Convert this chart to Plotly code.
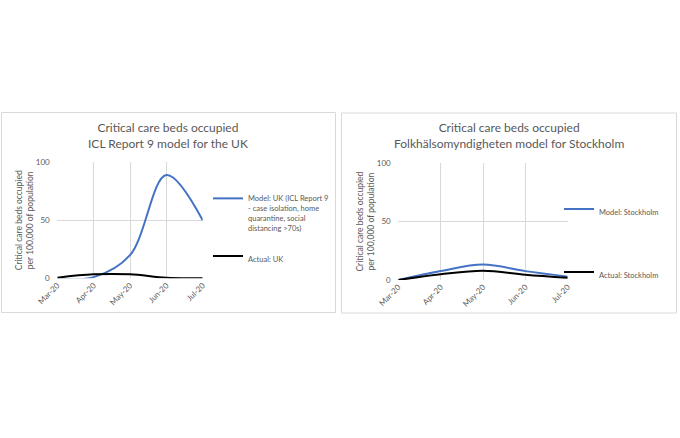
import plotly.graph_objects as go

W, H = 680, 438

months = ["Mar-20", "Apr-20", "May-20", "Jun-20", "Jul-20"]
uk_model = [0, 1, 20, 89, 50]
uk_actual = [0.5, 3.4, 3.4, 0.4, 0.1]
sthlm_model = [0, 7.7, 13.2, 7.6, 2.9]
sthlm_actual = [0, 4.9, 8.0, 4.6, 2.0]

title_uk = "Critical care beds occupied<br>ICL Report 9 model for the UK"
title_sthlm = "Critical care beds occupied<br>Folkhälsomyndigheten model for Stockholm"
ytitle = "Critical care beds occupied<br>per 100,000 of population"

FONT = "Lato"
GREY = "#595959"
GRID = "#d9d9d9"
BLUE = "#4472C4"


def px(x):
    return x / W


def py(y):
    return (H - y) / H


fig = go.Figure()

fig.add_trace(go.Scatter(x=months, y=uk_model, mode="lines", line=dict(color=BLUE, width=2, shape="spline"),
                         name="Model: UK (ICL Report 9<br>- case isolation, home<br>quarantine, social<br>distancing >70s)",
                         xaxis="x", yaxis="y", legend="legend"))
fig.add_trace(go.Scatter(x=months, y=uk_actual, mode="lines", line=dict(color="black", width=2, shape="spline"),
                         name="Actual: UK", xaxis="x", yaxis="y", legend="legend2"))
fig.add_trace(go.Scatter(x=months, y=sthlm_model, mode="lines", line=dict(color=BLUE, width=2, shape="spline"),
                         name="Model: Stockholm", xaxis="x2", yaxis="y2", legend="legend3"))
fig.add_trace(go.Scatter(x=months, y=sthlm_actual, mode="lines", line=dict(color="black", width=2, shape="spline"),
                         name="Actual: Stockholm", xaxis="x2", yaxis="y2", legend="legend4"))

xcommon = dict(type="category", range=[0, 4], showgrid=True, gridcolor=GRID, gridwidth=1, automargin=False,
               tickangle=-45, tickfont=dict(size=8, color=GREY, family=FONT),
               showline=False, zeroline=False, ticks="", fixedrange=True)
ycommon = dict(range=[0, 100], dtick=50, showgrid=True, gridcolor=GRID, gridwidth=1, automargin=False,
               tickfont=dict(size=8, color=GREY, family=FONT), showline=False, zeroline=False,
               ticks="outside", ticklen=5, tickcolor="rgba(0,0,0,0)", fixedrange=True,
               title=dict(text=ytitle, font=dict(size=8.5, color=GREY, family=FONT), standoff=0))

legend_common = dict(font=dict(size=7.5, color=GREY, family=FONT), bgcolor="rgba(0,0,0,0)",
                     xanchor="left", yanchor="middle", valign="top", itemwidth=30, tracegroupgap=0)

fig.update_layout(
    width=W, height=H, margin=dict(l=0, r=0, t=0, b=0, autoexpand=False),
    paper_bgcolor="white", plot_bgcolor="white",
    font=dict(family=FONT, color=GREY),
    xaxis=dict(domain=[px(57.3), px(202.7)], anchor="y", **xcommon),
    yaxis=dict(domain=[py(278.3), py(162.3)], anchor="x", **ycommon),
    xaxis2=dict(domain=[px(398.3), px(567.7)], anchor="y2", **xcommon),
    yaxis2=dict(domain=[py(280), py(163.3)], anchor="x2", **ycommon),
    legend=dict(x=px(208), y=py(213), **legend_common),
    legend2=dict(x=px(208), y=py(259), **legend_common),
    legend3=dict(x=px(559), y=py(212), **legend_common),
    legend4=dict(x=px(559), y=py(275), **legend_common),
    showlegend=True,
    shapes=[
        dict(type="rect", xref="paper", yref="paper", x0=px(1.5), x1=px(335.5), y0=py(312.5), y1=py(112.5),
             line=dict(color=GRID, width=1)),
        dict(type="rect", xref="paper", yref="paper", x0=px(341.5), x1=px(676.5), y0=py(313), y1=py(113),
             line=dict(color=GRID, width=1)),
    ],
    annotations=[
        dict(text=title_uk, xref="paper", yref="paper", x=px(168), y=py(135), showarrow=False,
             font=dict(size=12, color=GREY, family=FONT), xanchor="center", yanchor="middle"),
        dict(text=title_sthlm, xref="paper", yref="paper", x=px(509), y=py(135), showarrow=False,
             font=dict(size=12, color=GREY, family=FONT), xanchor="center", yanchor="middle"),
    ],
)

fig.write_html("out.html", config={"displayModeBar": False},
               post_script="document.body.style.margin='0';")
